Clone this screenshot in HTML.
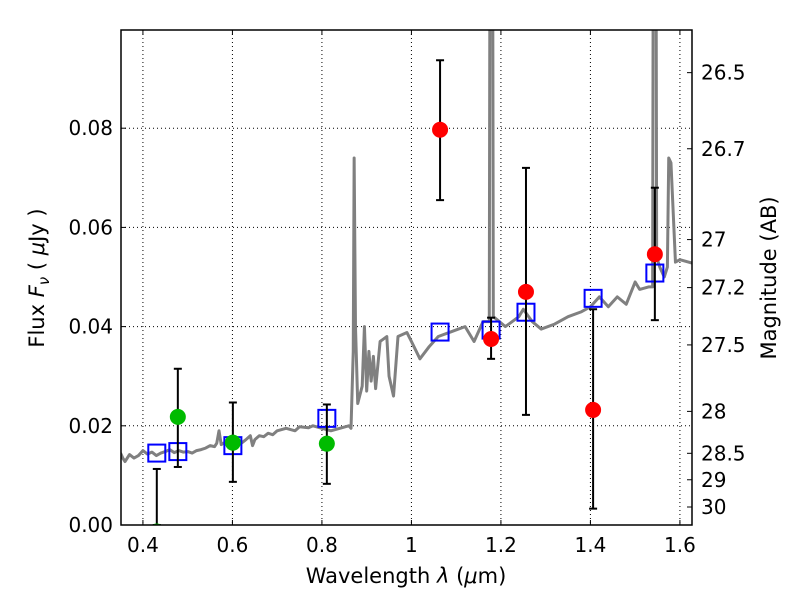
<!DOCTYPE html>
<html><head><meta charset="utf-8"><style>
body{margin:0;background:#fff}
svg text{font-family:"DejaVu Sans","Liberation Sans",sans-serif;fill:#000}
</style></head><body>
<svg id="chart" width="800" height="600" xmlns="http://www.w3.org/2000/svg"></svg>
<script>
const xTicks=[0.4,0.6,0.8,1.0,1.2,1.4,1.6];
const xTickLabels=["0.4","0.6","0.8","1","1.2","1.4","1.6"];
const yTicks=[0,0.02,0.04,0.06,0.08];
const yTickLabels=["0.00","0.02","0.04","0.06","0.08"];
const magTicks=[26.5,26.7,27,27.2,27.5,28,28.5,29,30];
const magLabels=["26.5","26.7","27","27.2","27.5","28","28.5","29","30"];
const specX=[0.35,0.355,0.36,0.37,0.38,0.39,0.40,0.41,0.42,0.43,0.44,0.45,0.46,0.47,0.48,0.49,0.50,0.51,0.52,0.53,0.54,0.55,0.56,0.565,0.57,0.575,0.58,0.60,0.61,0.62,0.63,0.64,0.645,0.65,0.66,0.67,0.68,0.69,0.70,0.72,0.74,0.75,0.77,0.78,0.80,0.82,0.84,0.86,0.865,0.87,0.872,0.875,0.88,0.89,0.895,0.90,0.905,0.91,0.915,0.92,0.93,0.945,0.95,0.96,0.97,0.99,1.00,1.019,1.04,1.06,1.09,1.12,1.14,1.16,1.174,1.177,1.180,1.183,1.19,1.21,1.24,1.25,1.27,1.29,1.32,1.35,1.38,1.40,1.42,1.44,1.46,1.48,1.50,1.51,1.53,1.539,1.542,1.545,1.548,1.555,1.565,1.572,1.575,1.58,1.59,1.60,1.627];
const specF=[0.0145,0.0135,0.0128,0.0142,0.0135,0.0140,0.0150,0.0143,0.0147,0.0140,0.0145,0.0148,0.0152,0.0146,0.0150,0.0147,0.0148,0.0145,0.0150,0.0152,0.0155,0.0160,0.0158,0.0165,0.0190,0.0162,0.0165,0.0170,0.0163,0.0165,0.0172,0.0180,0.0160,0.0172,0.0180,0.0178,0.0185,0.0182,0.0190,0.0195,0.0190,0.0198,0.0196,0.0200,0.0195,0.0190,0.0195,0.0200,0.0195,0.0350,0.0740,0.0400,0.0245,0.0280,0.0400,0.0270,0.0350,0.0290,0.0340,0.0275,0.0370,0.0380,0.0300,0.0260,0.0380,0.0388,0.0370,0.0335,0.0360,0.0380,0.0390,0.0400,0.0370,0.0410,0.0410,0.2,0.2,0.0420,0.0415,0.0400,0.0420,0.0435,0.0410,0.0395,0.0405,0.0420,0.0430,0.0440,0.0460,0.0440,0.0460,0.0445,0.0490,0.0475,0.0480,0.0480,0.2,0.2,0.0540,0.0520,0.0500,0.0520,0.0740,0.0730,0.0530,0.0535,0.0528];
const greenX=[0.431,0.478,0.601,0.811];
const greenF=[-0.0013,0.0218,0.0166,0.0164];
const greenLo=[0.0,0.0117,0.0087,0.0083];
const greenHi=[0.0113,0.0315,0.0247,0.0243];
const redX=[1.064,1.178,1.256,1.406,1.544];
const redF=[0.0797,0.0375,0.0470,0.0232,0.0546];
const redLo=[0.0655,0.0335,0.0222,0.0033,0.0413];
const redHi=[0.0937,0.0418,0.0720,0.0435,0.0680];
const modelX=[0.431,0.478,0.601,0.811,1.064,1.178,1.256,1.406,1.544];
const modelF=[0.0145,0.0148,0.0160,0.0215,0.0389,0.0393,0.0429,0.0457,0.0508];

const L=121,R=692,T=30,B=525,X0=0.351,X1=1.627,Y0=0,Y1=0.0998;
const sx=v=>L+(v-X0)/(X1-X0)*(R-L);
const sy=v=>B-(v-Y0)/(Y1-Y0)*(B-T);
const magY=m=>sy(Math.pow(10,-(m-23.9)/2.5));
const NS="http://www.w3.org/2000/svg";
const svg=document.getElementById('chart');
function mk(tag,attrs,parent){const e=document.createElementNS(NS,tag);for(const k in attrs)e.setAttribute(k,attrs[k]);(parent||svg).appendChild(e);return e;}
const defs=mk('defs',{});const cp=mk('clipPath',{id:'cp'},defs);mk('rect',{x:L,y:T,width:R-L,height:B-T},cp);

xTicks.forEach((t,i)=>{
  const g=mk('line',{x1:sx(t),x2:sx(t),y1:T,y2:B,stroke:'#000','stroke-width':1,'stroke-dasharray':'1,3'});
  
  
  mk('line',{x1:sx(t),x2:sx(t),y1:B,y2:B-5,stroke:'#000'});
  mk('line',{x1:sx(t),x2:sx(t),y1:T,y2:T+5,stroke:'#000'});
  const tx=mk('text',{x:sx(t),y:B+27,'text-anchor':'middle','font-size':20});tx.textContent=xTickLabels[i];
  
  
});
yTicks.forEach((t,i)=>{
  const g=mk('line',{x1:L,x2:R,y1:sy(t),y2:sy(t),stroke:'#000','stroke-width':1,'stroke-dasharray':'1,3'});
  
  
  mk('line',{x1:L,x2:L+5,y1:sy(t),y2:sy(t),stroke:'#000'});
  const tx=mk('text',{x:L-8,y:sy(t)+7,'text-anchor':'end','font-size':20});tx.textContent=yTickLabels[i];
  
  
});
magTicks.forEach((m,i)=>{
  mk('line',{x1:R,x2:R-5,y1:magY(m),y2:magY(m),stroke:'#000'});
  const tx=mk('text',{x:R+9,y:magY(m)+7,'font-size':20});tx.textContent=magLabels[i];
  
  
});

const gp=mk('g',{'clip-path':'url(#cp)'});
const sp=mk('polyline',{points:specX.map((x,i)=>sx(x)+','+sy(specF[i])).join(' '),fill:'none',stroke:'#808080','stroke-width':3,'stroke-linejoin':'round'},gp);



function errbar(x,lo,hi){
  const g=mk('g',{},gp);
  mk('line',{x1:sx(x),x2:sx(x),y1:sy(lo),y2:sy(hi),stroke:'#000','stroke-width':2},g);
  mk('line',{x1:sx(x)-4,x2:sx(x)+4,y1:sy(lo),y2:sy(lo),stroke:'#000','stroke-width':2},g);
  mk('line',{x1:sx(x)-4,x2:sx(x)+4,y1:sy(hi),y2:sy(hi),stroke:'#000','stroke-width':2},g);
  
  
}
modelX.forEach((x,i)=>{
  const r=mk('rect',{x:sx(x)-8.5,y:sy(modelF[i])-8.5,width:17,height:17,fill:'none',stroke:'#0000ff','stroke-width':2},gp);
  
  
});
greenX.forEach((x,i)=>{
  errbar(x,greenLo[i],greenHi[i]);
  const c=mk('circle',{cx:sx(x),cy:sy(greenF[i]),r:8,fill:'#00bb00'},gp);
  
  
});
redX.forEach((x,i)=>{
  errbar(x,redLo[i],redHi[i]);
  const c=mk('circle',{cx:sx(x),cy:sy(redF[i]),r:8,fill:'#ff0000'},gp);
  
  
});

const fr=mk('rect',{x:L,y:T,width:R-L,height:B-T,fill:'none',stroke:'#000','stroke-width':1.5});



const xl=mk('text',{x:406,y:583,'text-anchor':'middle','font-size':21});
xl.innerHTML='Wavelength  <tspan font-style="italic">λ</tspan> (<tspan font-style="italic">μ</tspan>m)';


const yl=mk('text',{x:0,y:0,'text-anchor':'middle','font-size':21,transform:'translate(44,278) rotate(-90)'});
yl.innerHTML='Flux  <tspan font-style="italic">F</tspan><tspan font-style="italic" font-size="15" dy="5">ν</tspan><tspan dy="-5">  ( </tspan><tspan font-style="italic">μ</tspan>Jy )';


const rl=mk('text',{x:0,y:0,'text-anchor':'middle','font-size':21,transform:'translate(776,278) rotate(-90)'});
rl.textContent='Magnitude (AB)';


</script>
</body></html>
